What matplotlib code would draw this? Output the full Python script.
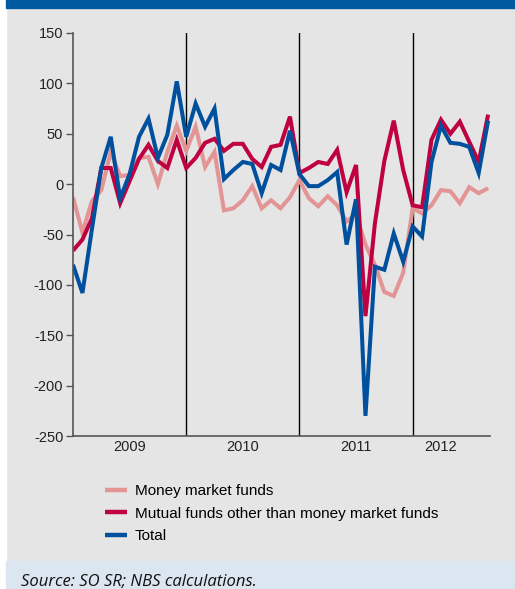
import numpy as np
import matplotlib.pyplot as plt
from matplotlib.patches import Rectangle

plt.rcParams['font.family'] = ['Liberation Sans', 'DejaVu Sans']
plt.rcParams['axes.unicode_minus'] = False

# monthly flows, Jan 2009 - Sep 2012
money_market = [-13, -48, -17, -6, 32, 8, 9, 26, 27, 0, 32, 58,
                33, 57, 17, 32, -26, -24, -16, -2, -24, -16, -24, -13,
                4, -14, -22, -12, -21, -37, -30, -60, -80, -107, -111, -88,
                -24, -29, -21, -6, -7, -19, -3, -9, -4]
mutual_other = [-66, -55, -34, 16, 16, -19, 3, 25, 39, 23, 16, 44,
                16, 26, 41, 45, 33, 40, 40, 25, 17, 37, 39, 67,
                11, 16, 22, 20, 34, -8, 19, -131, -39, 23, 63, 14,
                -21, -23, 44, 64, 50, 62, 42, 22, 69]
total = [-80, -108, -45, 16, 47, -14, 10, 47, 65, 26, 49, 102,
         47, 80, 57, 75, 5, 14, 22, 20, -9, 19, 14, 53,
         10, -2, -2, 4, 12, -60, -15, -230, -82, -85, -49, -77,
         -42, -52, 22, 58, 41, 40, 37, 11, 63]
years = ['2009', '2010', '2011', '2012']
labels = ['Money market funds',
          'Mutual funds other than money market funds',
          'Total']
colors = ['#e39494', '#bf0041', '#00509e']

x = np.arange(len(total))

fig = plt.figure(figsize=(5.15, 5.89), dpi=100, facecolor='#e5e5e5')

# frame decorations: white strip on the left, blue bar on top, source band
fig.patches.append(Rectangle((0, 0), 6 / 515, 1, transform=fig.transFigure,
                             color='white', zorder=0))
fig.patches.append(Rectangle((6 / 515, 1 - 8 / 589), 1, 8 / 589,
                             transform=fig.transFigure, color='#005aa0', zorder=0))
fig.patches.append(Rectangle((6 / 515, 0), 1, 28 / 589,
                             transform=fig.transFigure, color='#dce6f0', zorder=0))

ax = fig.add_axes([73 / 515, 153 / 589, 417 / 515, 403 / 589])
ax.set_facecolor('#e5e5e5')

for series, lab, col in zip([money_market, mutual_other, total], labels, colors):
    ax.plot(x, series, color=col, lw=2.9, label=lab, solid_joinstyle='miter',
            solid_capstyle='butt')

ax.set_xlim(0, 44.2)
ax.set_ylim(-250, 150)
ax.set_yticks(np.arange(-250, 151, 50))

for i in range(1, len(years)):
    ax.axvline(12 * i, color='black', lw=1, zorder=0)

ax.set_xticks([])
for i, yr in enumerate(years):
    pos = 12 * i + 6 if i < 3 else 39
    ax.text(pos, -254, yr, ha='center', va='top', fontsize=10.5, color='#222222')

for side in ['top', 'right']:
    ax.spines[side].set_visible(False)
for side in ['left', 'bottom']:
    ax.spines[side].set_color('#555555')
    ax.spines[side].set_linewidth(1.2)
ax.tick_params(axis='y', direction='out', length=5, width=1, color='#555555',
               labelsize=10.5, labelcolor='#222222', pad=2)

leg = fig.legend(loc='upper left', bbox_to_anchor=(105 / 515, 1 - 484 / 589),
                 frameon=False, fontsize=11, handlelength=1.45,
                 handletextpad=0.5, labelspacing=0.56, borderpad=0,
                 borderaxespad=0)
for line in leg.get_lines():
    line.set_linewidth(3.2)

fig.text(21 / 515, 3 / 589, 'Source: SO SR; NBS calculations.',
         family='Open Sans', style='italic', fontsize=12, color='#111111',
         ha='left', va='baseline')

fig.savefig('out.png', dpi=100, facecolor=fig.get_facecolor())
